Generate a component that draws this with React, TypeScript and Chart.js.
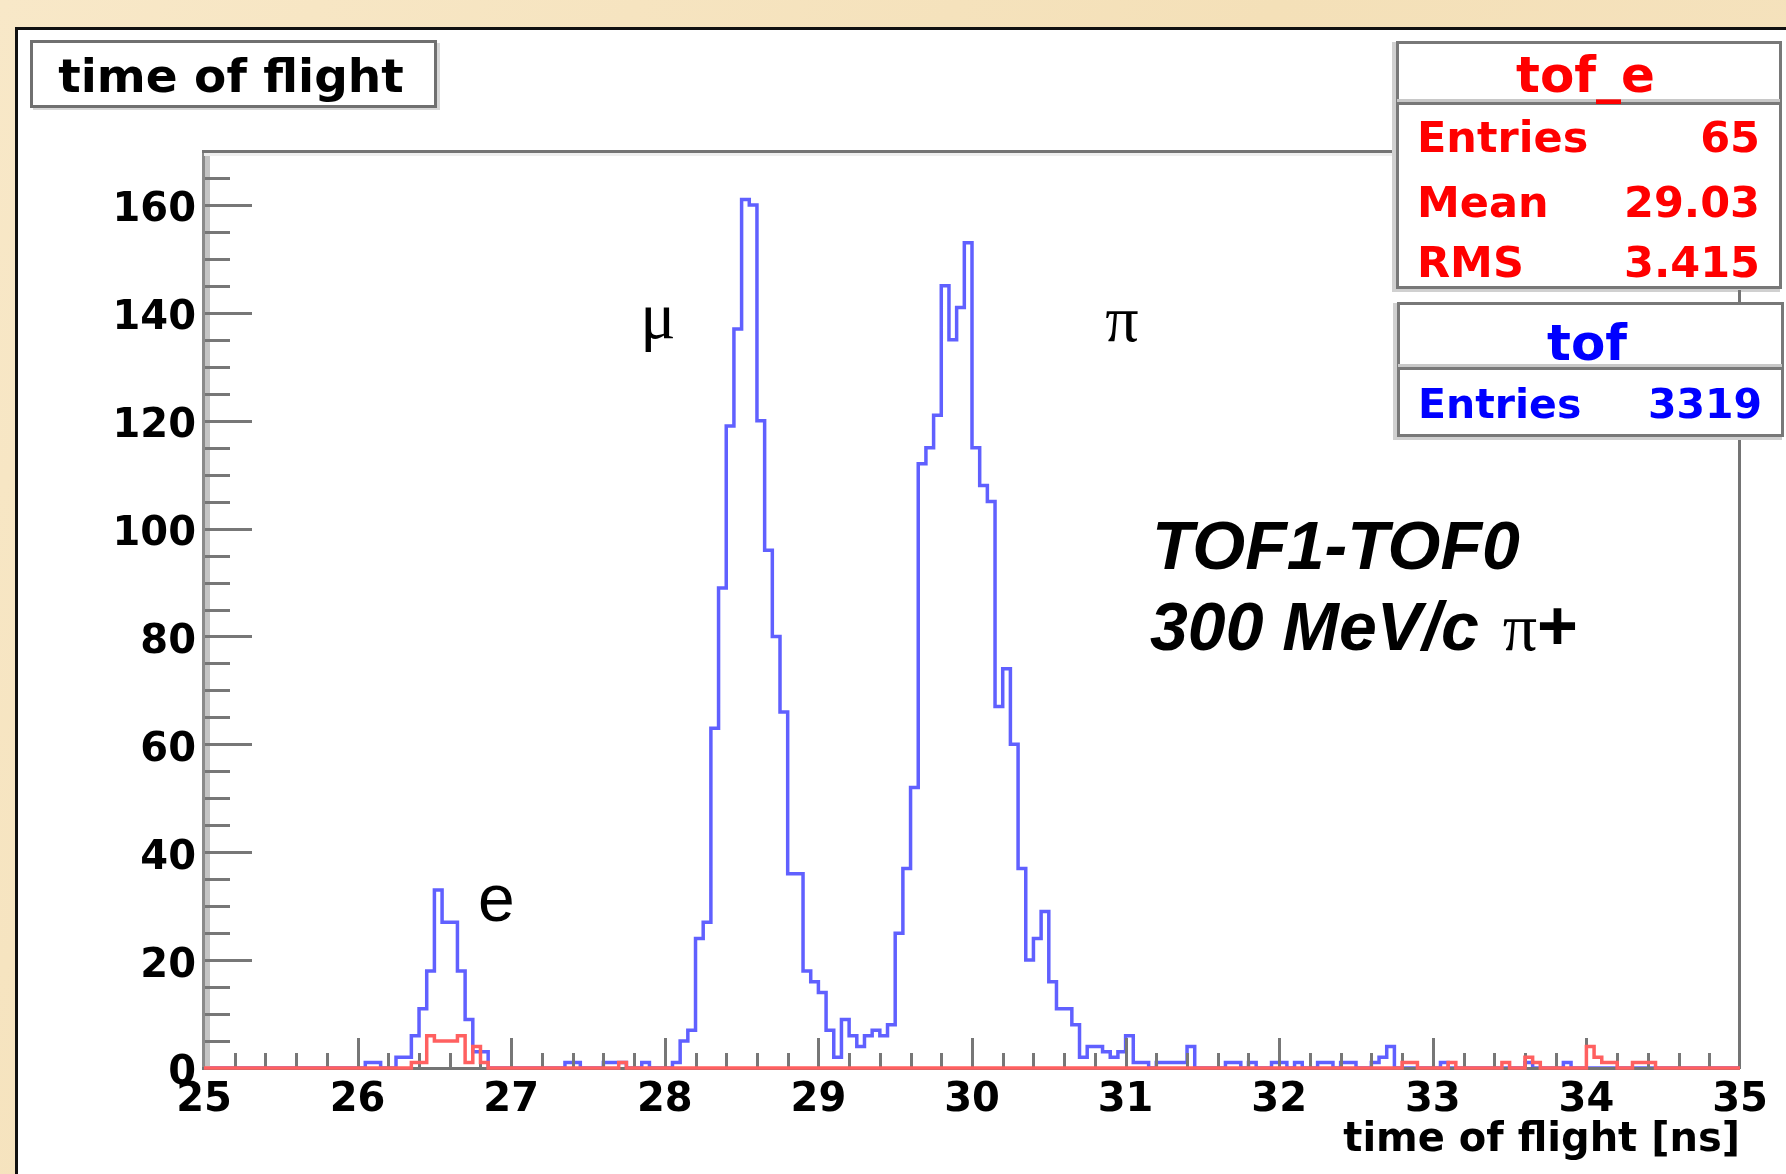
import React, { useEffect, useRef } from "react";
import { Chart, registerables } from "chart.js";

Chart.register(...registerables);

// ---------------- data ----------------
// Histogram binning (ns)
const binLow = 25;
const binWidth = 0.05;
const xMin = 25;
const xMax = 35;
const yMax = 170;

// "tof" histogram (blue), 200 bins of 0.05 ns from 25 to 35 ns
const tofCounts: number[] = [
  // 25.00 - 25.95
  0, 0, 0, 0, 0, 0, 0, 0, 0, 0, 0, 0, 0, 0, 0, 0, 0, 0, 0, 0,
  // 26.00 - 26.95
  0, 1, 1, 0, 0, 2, 2, 6, 11, 18, 33, 27, 27, 18, 9, 3, 3, 0, 0, 0,
  // 27.00 - 27.95
  0, 0, 0, 0, 0, 0, 0, 1, 1, 0, 0, 0, 1, 1, 1, 0, 0, 1, 0, 0,
  // 28.00 - 28.95
  0, 1, 5, 7, 24, 27, 63, 89, 119, 137, 161, 160, 120, 96, 80, 66, 36, 36, 18, 16,
  // 29.00 - 29.95
  14, 7, 2, 9, 6, 4, 6, 7, 6, 8, 25, 37, 52, 112, 115, 121, 145, 135, 141, 153,
  // 30.00 - 30.95
  115, 108, 105, 67, 74, 60, 37, 20, 24, 29, 16, 11, 11, 8, 2, 4, 4, 3, 2, 3,
  // 31.00 - 31.95
  6, 1, 1, 0, 1, 1, 1, 1, 4, 0, 0, 0, 0, 1, 1, 0, 1, 0, 0, 1,
  // 32.00 - 32.95
  1, 0, 1, 0, 0, 1, 1, 0, 1, 1, 0, 0, 1, 2, 4, 0, 0, 0, 0, 0,
  // 33.00 - 33.95
  0, 1, 0, 0, 0, 0, 0, 0, 0, 0, 0, 0, 1, 0, 0, 0, 0, 1, 0, 0,
  // 34.00 - 34.95
  0, 0, 0, 0, 0, 0, 0, 0, 0, 0, 0, 0, 0, 0, 0, 0, 0, 0, 0, 0,
];

// "tof_e" histogram (red), same binning
const tofECounts: number[] = [
  // 25.00 - 25.95
  0, 0, 0, 0, 0, 0, 0, 0, 0, 0, 0, 0, 0, 0, 0, 0, 0, 0, 0, 0,
  // 26.00 - 26.95
  0, 0, 0, 0, 0, 0, 0, 1, 1, 6, 5, 5, 5, 6, 1, 4, 1, 0, 0, 0,
  // 27.00 - 27.95
  0, 0, 0, 0, 0, 0, 0, 0, 0, 0, 0, 0, 0, 0, 1, 0, 0, 0, 0, 0,
  // 28.00 - 28.95
  0, 0, 0, 0, 0, 0, 0, 0, 0, 0, 0, 0, 0, 0, 0, 0, 0, 0, 0, 0,
  // 29.00 - 29.95
  0, 0, 0, 0, 0, 0, 0, 0, 0, 0, 0, 0, 0, 0, 0, 0, 0, 0, 0, 0,
  // 30.00 - 30.95
  0, 0, 0, 0, 0, 0, 0, 0, 0, 0, 0, 0, 0, 0, 0, 0, 0, 0, 0, 0,
  // 31.00 - 31.95
  0, 0, 0, 0, 0, 0, 0, 0, 0, 0, 0, 0, 0, 0, 0, 0, 0, 0, 0, 0,
  // 32.00 - 32.95
  0, 0, 0, 0, 0, 0, 0, 0, 0, 0, 0, 0, 0, 0, 0, 0, 1, 1, 0, 0,
  // 33.00 - 33.95
  0, 0, 1, 0, 0, 0, 0, 0, 0, 1, 0, 0, 2, 1, 0, 0, 0, 0, 0, 0,
  // 34.00 - 34.95
  4, 2, 1, 1, 0, 0, 1, 1, 1, 0, 0, 0, 0, 0, 0, 0, 0, 0, 0, 0,
];

const xTickStep = 1;
const yTickStep = 20;

const titleText = "time of flight";
const xAxisTitle = "time of flight [ns]";

const tofEName = "tof_e";
const tofELabels = ["Entries", "Mean", "RMS"];
const tofEValues = ["65", "29.03", "3.415"];

const tofName = "tof";
const tofLabels = ["Entries"];
const tofValues = ["3319"];

const particleLabels = ["e", "\u03bc", "\u03c0"];
const noteLine1 = "TOF1-TOF0";
const noteLine2 = "300 MeV/c ";
const noteLine2Greek = "\u03c0";
const noteLine2Tail = "+";

// ---------------- helpers ----------------
function histPoints(counts: number[]) {
  const pts = counts.map((c, i) => ({ x: binLow + i * binWidth, y: c }));
  pts.push({ x: binLow + counts.length * binWidth, y: counts[counts.length - 1] });
  return pts;
}

const BOLD = '"DejaVu Sans", sans-serif';

function drawStatBox(
  ctx: CanvasRenderingContext2D,
  x1: number, y1: number, x2: number, y2: number, sepY: number,
  color: string, name: string, labels: string[], values: string[],
  nameBase: number, rowBases: number[], rowFont: number
) {
  ctx.save();
  ctx.fillStyle = "#ffffff";
  ctx.fillRect(x1, y1, x2 - x1, y2 - y1);
  // soft shadow lines
  ctx.fillStyle = "#d0d0d0";
  ctx.fillRect(x1 - 5, y1, 4, y2 - y1 + 5);
  ctx.fillRect(x1 - 5, y2 + 1, x2 - x1 + 5, 4);
  ctx.strokeStyle = "#787878";
  ctx.lineWidth = 3;
  ctx.strokeRect(x1 + 0.5, y1 + 0.5, x2 - x1, y2 - y1);
  ctx.fillStyle = "#c8c8c8";
  ctx.fillRect(x1, sepY - 4, x2 - x1, 3);
  ctx.beginPath();
  ctx.moveTo(x1, sepY + 0.5);
  ctx.lineTo(x2, sepY + 0.5);
  ctx.stroke();

  ctx.fillStyle = color;
  ctx.textBaseline = "alphabetic";
  ctx.font = `bold 50px ${BOLD}`;
  ctx.textAlign = "center";
  ctx.fillText(name, (x1 + x2) / 2 - 3, nameBase);
  ctx.font = `bold ${rowFont}px ${BOLD}`;
  labels.forEach((lab, i) => {
    ctx.textAlign = "left";
    ctx.fillText(lab, x1 + 20, rowBases[i]);
    ctx.textAlign = "right";
    ctx.fillText(values[i], x2 - 20, rowBases[i]);
  });
  ctx.restore();
}

const rootPlugin = {
  id: "rootDecor",
  beforeDraw(chart: any) {
    const ctx: CanvasRenderingContext2D = chart.ctx;
    const W = chart.width;
    const H = chart.height;
    ctx.save();
    // parchment background
    const g = ctx.createLinearGradient(0, 0, W, H);
    g.addColorStop(0, "#f8e8c8");
    g.addColorStop(0.5, "#f4e0b8");
    g.addColorStop(1, "#f6e4c2");
    ctx.fillStyle = g;
    ctx.fillRect(0, 0, W, H);
    // white pad with black border
    ctx.fillStyle = "#ffffff";
    ctx.fillRect(15, 27, W, H);
    ctx.strokeStyle = "#111111";
    ctx.lineWidth = 3;
    ctx.beginPath();
    ctx.moveTo(16.5, H + 5);
    ctx.lineTo(16.5, 28.5);
    ctx.lineTo(W + 5, 28.5);
    ctx.stroke();
    // title box
    ctx.fillStyle = "#d8d8d8";
    ctx.fillRect(33, 107, 406, 3);
    ctx.fillRect(437, 43, 3, 67);
    ctx.strokeStyle = "#707070";
    ctx.lineWidth = 3;
    ctx.strokeRect(31.5, 41.5, 404, 65);
    ctx.fillStyle = "#000000";
    ctx.font = `bold 47px ${BOLD}`;
    ctx.textAlign = "center";
    ctx.textBaseline = "alphabetic";
    ctx.fillText(titleText, 231, 92);
    ctx.restore();
  },
  afterDatasetDraw(chart: any, args: any) {
    if (args.index !== 1) return;
    const ctx: CanvasRenderingContext2D = chart.ctx;
    const { left, right, top, bottom } = chart.chartArea;
    const xs = chart.scales.x;
    const ys = chart.scales.y;
    ctx.save();
    // frame
    ctx.fillStyle = "#c4c4c4";
    ctx.fillRect(left + 1, top, 5, bottom - top);
    ctx.fillStyle = "#8a8a8a";
    ctx.fillRect(left - 2, top, 3, bottom - top + 1);
    ctx.fillStyle = "#eeeeee";
    ctx.fillRect(left, top + 2, right - left, 3);
    ctx.fillStyle = "#747474";
    ctx.fillRect(left - 2, top - 1, right - left + 2, 3);
    ctx.fillRect(right - 2, top - 1, 3, bottom - top + 2);
    ctx.fillRect(left - 2, bottom - 1, right - left + 2, 3);
    // y ticks (inside, from left axis)
    ctx.strokeStyle = "#777777";
    ctx.lineWidth = 3;
    for (let v = 5; v < yMax; v += 5) {
      const y = Math.round(ys.getPixelForValue(v)) + 0.5;
      const len = v % 20 === 0 ? 47 : 25;
      ctx.beginPath();
      ctx.moveTo(left + 1, y);
      ctx.lineTo(left + 1 + len, y);
      ctx.stroke();
    }
    // x ticks (inside, upward from bottom axis)
    for (let k = 1; k < 50; k++) {
      const v = xMin + k * 0.2;
      const x = Math.round(xs.getPixelForValue(v)) + 0.5;
      const len = k % 5 === 0 ? 30 : 15;
      ctx.beginPath();
      ctx.moveTo(x, bottom);
      ctx.lineTo(x, bottom - len);
      ctx.stroke();
    }
    ctx.restore();
  },
  afterDraw(chart: any) {
    const ctx: CanvasRenderingContext2D = chart.ctx;
    ctx.save();
    // stats boxes
    drawStatBox(ctx, 1397, 42, 1780, 287, 103, "#ff0000", tofEName, tofELabels, tofEValues, 92, [152, 217, 277], 43);
    // frame segment visible between the boxes
    ctx.fillStyle = "#747474";
    ctx.fillRect(1738, 290, 3, 12);
    drawStatBox(ctx, 1398, 303, 1782, 435, 368, "#0000ff", tofName, tofLabels, tofValues, 360, [418], 41);

    // particle labels
    ctx.fillStyle = "#000000";
    ctx.textBaseline = "alphabetic";
    ctx.textAlign = "left";
    ctx.font = '66px "Liberation Sans", Arial, sans-serif';
    ctx.fillText(particleLabels[0], 478, 921);
    ctx.textAlign = "center";
    ctx.font = '66px "Liberation Serif", "Times New Roman", serif';
    ctx.fillText(particleLabels[1], 658, 338);
    ctx.fillText(particleLabels[2], 1122, 341);

    // note
    ctx.textAlign = "left";
    ctx.font = 'italic bold 68px "Liberation Sans", Arial, sans-serif';
    ctx.fillText(noteLine1, 1152, 569);
    ctx.fillText(noteLine2, 1150, 650);
    let x = 1150 + ctx.measureText(noteLine2).width;
    ctx.font = '68px "Liberation Serif", "Times New Roman", serif';
    ctx.fillText(noteLine2Greek, x + 5, 650);
    x += 5 + ctx.measureText(noteLine2Greek).width;
    ctx.font = 'bold 70px "Liberation Sans", Arial, sans-serif';
    ctx.fillText(noteLine2Tail, x, 650);
    ctx.restore();
  },
};

export default function App() {
  const ref = useRef<HTMLCanvasElement>(null);

  useEffect(() => {
    const canvas = ref.current;
    if (!canvas) return;
    const chart = new Chart(canvas, {
      type: "line",
      data: {
        datasets: [
          {
            label: tofEName,
            data: histPoints(tofECounts),
            borderColor: "#ff6060",
            borderWidth: 3.5,
            pointRadius: 0,
            fill: false,
            stepped: "before",
            borderJoinStyle: "miter",
            borderCapStyle: "butt",
            clip: 6,
          },
          {
            label: tofName,
            data: histPoints(tofCounts),
            borderColor: "#6060ff",
            borderWidth: 3.5,
            pointRadius: 0,
            fill: false,
            stepped: "before",
            borderJoinStyle: "miter",
            borderCapStyle: "butt",
            clip: 6,
          },
        ],
      },
      options: {
        animation: false,
        responsive: false,
        maintainAspectRatio: false,
        devicePixelRatio: 1,
        layout: { padding: { left: 0, right: 46, top: 151, bottom: 0 } },
        plugins: {
          legend: { display: false },
          tooltip: { enabled: false },
          title: { display: false },
        },
        events: [],
        scales: {
          x: {
            type: "linear",
            min: xMin,
            max: xMax,
            grid: { display: false, drawTicks: false },
            border: { display: false },
            ticks: {
              stepSize: xTickStep,
              color: "#000000",
              font: { family: BOLD, weight: "bold", size: 40 },
              padding: 9,
              maxRotation: 0,
              autoSkip: false,
            },
            title: {
              display: true,
              text: xAxisTitle,
              align: "end",
              color: "#000000",
              font: { family: BOLD, weight: "bold", size: 40 },
              padding: { top: 0, bottom: 9 },
            },
            afterFit: (s: any) => {
              s.height = 106;
            },
          },
          y: {
            type: "linear",
            min: 0,
            max: yMax,
            grid: { display: false, drawTicks: false },
            border: { display: false },
            ticks: {
              stepSize: yTickStep,
              includeBounds: false,
              color: "#000000",
              font: { family: BOLD, weight: "bold", size: 40, lineHeight: 0.3 },
              padding: 8,
              // a blank first line nudges the label down so its digits centre on the tick
              callback: (v: any) => ["", String(v)],
            },
            afterFit: (s: any) => {
              s.width = 204;
            },
          },
        },
      } as any,
      plugins: [rootPlugin],
    });
    return () => chart.destroy();
  }, []);

  return (
    <div style={{ position: "fixed", left: 0, top: 0, width: 1786, height: 1174 }}>
      <canvas ref={ref} width={1786} height={1174} style={{ width: 1786, height: 1174, display: "block" }} />
    </div>
  );
}
